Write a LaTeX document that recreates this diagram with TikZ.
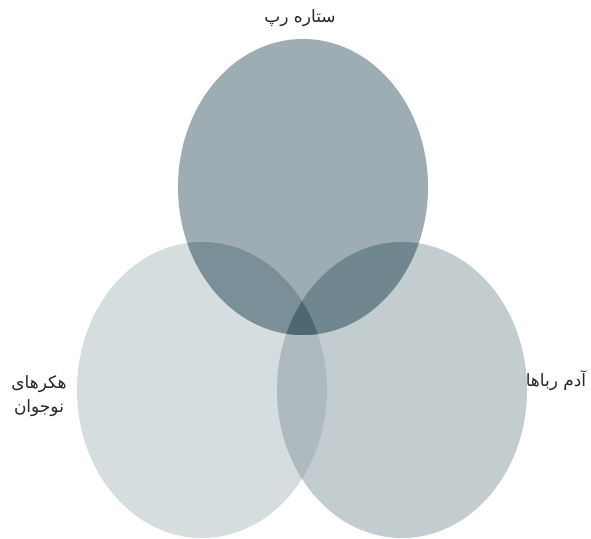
\documentclass[tikz,border=0pt]{standalone}
\usepackage{fontspec}
\newfontfamily\arabicfont[Script=Arabic]{DejaVu Sans}
\TeXXeTstate=1
\usepackage{xcolor}
\usetikzlibrary{positioning}

\definecolor{topc}{HTML}{9DADB3}
\definecolor{leftc}{HTML}{D6DDDF}
\definecolor{rightc}{HTML}{C3CDD0}
\definecolor{tlc}{HTML}{7A8F97}
\definecolor{trc}{HTML}{70878F}
\definecolor{lrc}{HTML}{ADBABF}
\definecolor{allc}{HTML}{4E6873}

\begin{document}
\begin{tikzpicture}[x=0.03cm, y=0.03cm,
  set/.style={x radius=3.75cm, y radius=4.44cm},
  label/.style={font=\arabicfont\fontsize{14.5}{21}\selectfont, text=black!85, align=center, inner sep=0pt}]
  \useasboundingbox (0,0) rectangle (591,539);
  % centres of the three sets
  \coordinate (rap) at (303,352);
  \coordinate (hack) at (202,149);
  \coordinate (kid) at (402,149);
  \fill [leftc] (hack) ellipse [set];
  \fill [rightc] (kid) ellipse [set];
  \fill [topc] (rap) ellipse [set];
  \begin{scope}
    \clip (hack) ellipse [set];
    \fill [lrc] (kid) ellipse [set];
    \fill [tlc] (rap) ellipse [set];
  \end{scope}
  \begin{scope}
    \clip (kid) ellipse [set];
    \fill [trc] (rap) ellipse [set];
    \clip (hack) ellipse [set];
    \fill [allc] (rap) ellipse [set];
  \end{scope}
  \node [label] (rapl) at (300,521) {\beginR ستاره رپ\endR};
  \node [label] (kidl) at (556,158) {\beginR آدم رباها\endR};
  \node [label] (hackl) at (39,143) {\beginR هکرهای\endR\\\beginR نوجوان\endR};
\end{tikzpicture}
\end{document}
